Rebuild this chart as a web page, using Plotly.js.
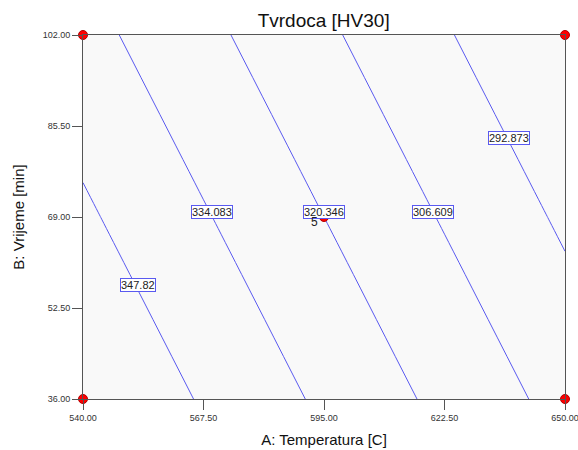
<!DOCTYPE html>
<html>
<head>
<meta charset="utf-8">
<script src="https://cdn.plot.ly/plotly-3.0.1.min.js"></script>
<style>html,body{margin:0;padding:0;background:#fff;}#chart{width:578px;height:450px;}</style>
</head>
<body>
<div id="chart"></div>
<script>
// Factor A: Temperatura [C], Factor B: Vrijeme [min]
const temperature = [540, 595, 650];
const time = [36, 69, 102];
// Predicted Tvrdoca [HV30] at grid (rows = time, cols = temperature)
const hardness = [
  [361.41, 331.78, 302.15],
  [349.98, 320.35, 290.72],
  [338.54, 308.91, 279.28]
];
const contourLevels = [292.873, 306.609, 320.346, 334.083, 347.82];
const levelLabels = ["292.873", "306.609", "320.346", "334.083", "347.82"];
// Design points
const designT = [540, 540, 650, 650, 595];
const designTime = [36, 102, 36, 102, 69];
const xTicks = [540, 567.5, 595, 622.5, 650];
const yTicks = [36, 52.5, 69, 85.5, 102];

const FONT = 'Liberation Sans, Arial, sans-serif';
const lineBlue = '#5a5af0';

const traces = [
  {
    type: 'contour',
    x: temperature, y: time, z: hardness,
    showscale: false,
    contours: {
      coloring: 'none',
      start: contourLevels[0],
      end: contourLevels[contourLevels.length - 1],
      size: (contourLevels[contourLevels.length - 1] - contourLevels[0]) / (contourLevels.length - 1)
    },
    line: {color: lineBlue, width: 1, smoothing: 0},
    hoverinfo: 'skip'
  },
  {
    type: 'scatter', mode: 'markers',
    x: designT, y: designTime,
    marker: {color: '#ff0000', size: 9, symbol: 'circle', line: {color: '#b00000', width: 1}},
    cliponaxis: false,
    hoverinfo: 'skip'
  }
];

// label placement (data coordinates along each contour)
const labelPos = [
  {x: 637.2, y: 83.3},
  {x: 619.9, y: 69.9},
  {x: 594.9, y: 69.9},
  {x: 569.4, y: 69.9},
  {x: 552.6, y: 56.7}
];
const annotations = levelLabels.map((t, i) => ({
  x: labelPos[i].x, y: labelPos[i].y, xref: 'x', yref: 'y',
  text: t, showarrow: false,
  font: {family: FONT, size: 11, color: '#222'},
  bgcolor: '#ffffff', bordercolor: lineBlue, borderwidth: 1, borderpad: 0
}));
annotations.push({
  x: designT[4], y: designTime[4], xref: 'x', yref: 'y',
  text: '5', showarrow: false, xshift: -10, yshift: -5,
  font: {family: FONT, size: 12, color: '#222'}
});

const layout = {
  width: 578, height: 450,
  margin: {l: 83, r: 13, t: 35, b: 51},
  paper_bgcolor: '#ffffff',
  plot_bgcolor: '#f9f9f9',
  showlegend: false,
  title: {text: 'Tvrdoca [HV30]', font: {family: FONT, size: 19, color: '#111'}, x: 0.56, xanchor: 'center', y: 0.955, yanchor: 'middle'},
  xaxis: {
    range: [540, 650], tickvals: xTicks, tickformat: '.2f',
    ticks: 'outside', ticklen: 10, tickcolor: '#555', tickwidth: 1,
    showline: true, linecolor: '#555', linewidth: 1, mirror: true,
    showgrid: false, zeroline: false, ticklabeloverflow: 'allow',
    tickfont: {family: FONT, size: 9, color: '#333'},
    title: {text: 'A: Temperatura [C]', font: {family: FONT, size: 15, color: '#111'}, standoff: 12}
  },
  yaxis: {
    range: [36, 102], tickvals: yTicks, tickformat: '.2f',
    ticks: 'outside', ticklen: 10, tickcolor: '#555', tickwidth: 1,
    showline: true, linecolor: '#555', linewidth: 1, mirror: true,
    showgrid: false, zeroline: false,
    tickfont: {family: FONT, size: 9, color: '#333'},
    title: {text: 'B: Vrijeme [min]', font: {family: FONT, size: 15, color: '#111'}, standoff: 14}
  },
  annotations: annotations
};

Plotly.newPlot('chart', traces, layout, {displayModeBar: false, staticPlot: true});
</script>
</body>
</html>
